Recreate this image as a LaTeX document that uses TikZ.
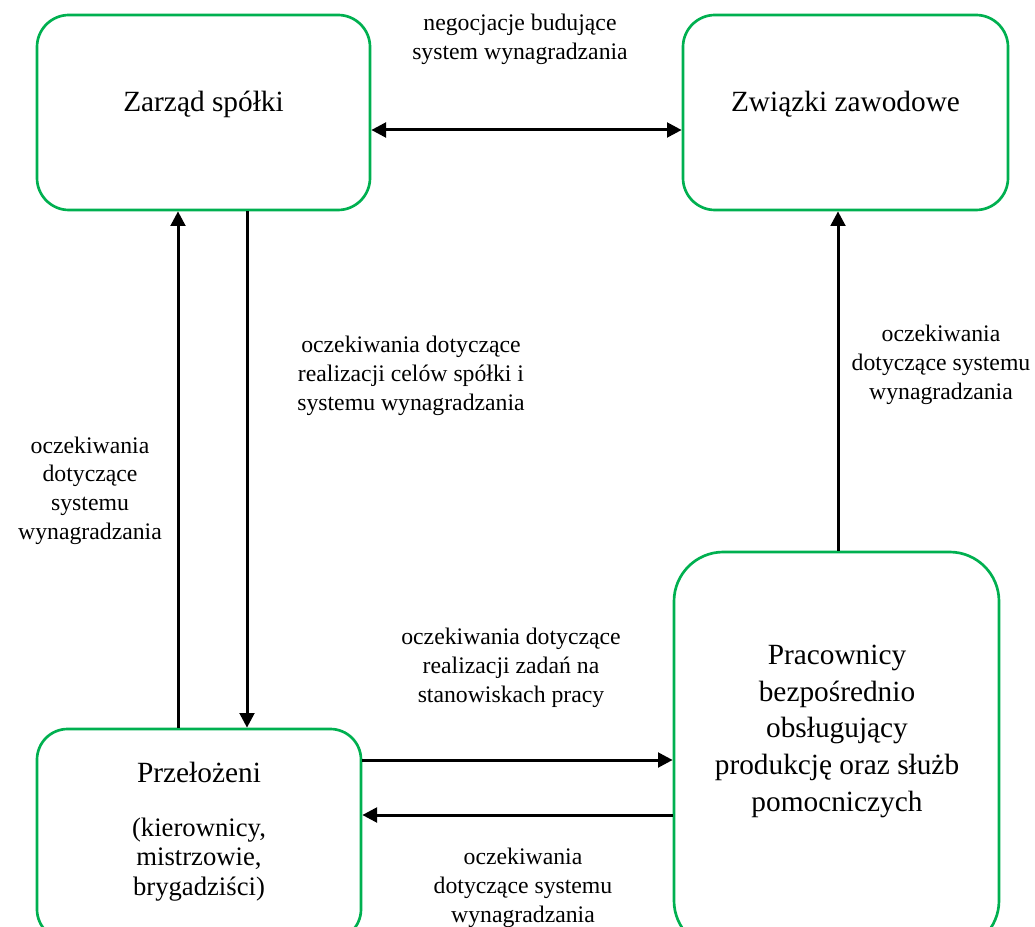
\documentclass[tikz,border=0pt]{standalone}
\usepackage{fontspec}
\setmainfont{Liberation Serif}
\usetikzlibrary{arrows.meta,calc}
\definecolor{boxgreen}{RGB}{0,176,80}
\begin{document}
\begin{tikzpicture}[x=0.75pt,y=-0.75pt,
  box/.style={draw=boxgreen, line width=2pt, inner sep=0pt},
  boxtext/.style={font=\fontsize{22}{27.4}\selectfont, align=center, anchor=base, inner sep=0pt},
  subtext/.style={font=\fontsize{20}{21.8}\selectfont, align=center, anchor=base, inner sep=0pt},
  lab/.style={font=\fontsize{17.8}{21.4}\selectfont, align=center, anchor=base, inner sep=0pt},
  arr/.style={line width=2.25pt, -{Triangle[length=11pt,width=11pt]}},
  darr/.style={line width=2.25pt, {Triangle[length=11pt,width=11pt]}-{Triangle[length=11pt,width=11pt]}}
]
\clip (0,0) rectangle (1035,927);
\fill[white] (0,0) rectangle (1035,927);

% boxes
\node[box, minimum width=249.75pt, minimum height=146.25pt, rounded corners=24pt] (zarzad) at (203.5,112.5) {};
\node[box, minimum width=243.75pt, minimum height=146.25pt, rounded corners=24pt] (zwiazki) at (845.5,112.5) {};
\node[box, minimum width=243pt, minimum height=158.25pt, rounded corners=23pt] (przel) at (199,834.5) {};
\node[box, minimum width=243.75pt, minimum height=298.5pt, rounded corners=37pt] (prac) at (836.5,751) {};

% box texts (base = baseline of last line)
\node[boxtext] (zarzadT) at (203.5,112) {Zarząd spółki};
\node[boxtext] (zwiazkiT) at (845.5,112) {Związki zawodowe};
\node[boxtext] (przelT) at (199,782) {Przełożeni};
\node[subtext] (przelS) at (199,895) {(kierownicy,\\ mistrzowie,\\ brygadziści)};
\node[boxtext] (pracT) at (837,811) {Pracownicy\\ bezpośrednio\\ obsługujący\\ produkcję oraz służb\\ pomocniczych};

% connectors
\draw[darr] ($(zarzad.east)+(0,17.5)$) -- ($(zwiazki.west)+(0,17.5)$);
\draw[arr] (przel.north -| 178,0) -- (zarzad.south -| 178,0);
\draw[arr] (zarzad.south -| 247,0) -- (przel.north -| 247,0);
\draw[arr] (prac.north -| 838,0) -- (zwiazki.south -| 838,0);
\draw[arr] (przel.east |- 0,760) -- (prac.west |- 0,760);
\draw[arr] (prac.west |- 0,815) -- (przel.east |- 0,815);

% labels
\node[lab] (l1) at (520,59.5) {negocjacje budujące\\ system wynagradzania};
\node[lab] (l2) at (411,410) {oczekiwania dotyczące\\ realizacji celów spółki i\\ systemu wynagradzania};
\node[lab] (l3) at (90,539) {oczekiwania\\ dotyczące\\ systemu\\ wynagradzania};
\node[lab] (l4) at (941,399) {oczekiwania\\ dotyczące systemu\\ wynagradzania};
\node[lab] (l5) at (511,702) {oczekiwania dotyczące\\ realizacji zadań na\\ stanowiskach pracy};
\node[lab] (l6) at (523,922) {oczekiwania\\ dotyczące systemu\\ wynagradzania};
\end{tikzpicture}
\end{document}
